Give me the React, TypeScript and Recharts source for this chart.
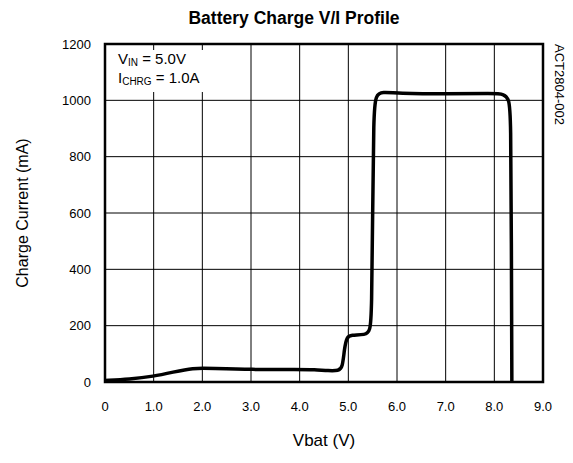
import { LineChart, Line, XAxis, YAxis, CartesianGrid, ReferenceArea } from 'recharts'

// battery voltage (V) and charge current (mA) read from the profile
const vbat = [0, 0.5, 1.0, 1.4, 1.8, 2.2, 3.0, 4.0, 4.3, 4.6, 4.8, 4.88, 4.92, 4.97, 5.05, 5.35, 5.45, 5.48, 5.5, 5.52, 5.56, 5.7, 6.0, 7.0, 8.0, 8.2, 8.3, 8.34, 8.35, 8.36]
const current = [5, 10, 20, 35, 50, 48, 44, 45, 44, 40, 40, 50, 120, 160, 167, 167, 180, 250, 600, 950, 1020, 1030, 1025, 1022, 1025, 1022, 1005, 950, 500, 0]

const xTicks = [0, 1, 2, 3, 4, 5, 6, 7, 8, 9]
const yTicks = [0, 200, 400, 600, 800, 1000, 1200]

const data = vbat.map((v, i) => ({ v, i: current[i] }))

const font = '"Liberation Sans", Arial, sans-serif'

export default function App() {
  return (
    <div style={{ position: 'relative', width: 573, height: 463, background: '#fff', margin: -8 }}>
      <LineChart
        width={573}
        height={463}
        data={data}
        margin={{ top: 44, right: 30, bottom: 51, left: 45 }}
      >
        <CartesianGrid stroke="#000" strokeWidth={1} strokeOpacity={1} />
        <XAxis
          dataKey="v"
          type="number"
          domain={[0, 9]}
          ticks={xTicks}
          tickFormatter={(t: number) => (t === 0 ? '0' : t.toFixed(1))}
          tickLine={false}
          axisLine={false}
          tickMargin={14}
          height={30}
          tick={{ fill: '#000', fontSize: 13, fontFamily: font }}
        />
        <YAxis
          type="number"
          domain={[0, 1200]}
          ticks={yTicks}
          tickLine={false}
          axisLine={false}
          tickMargin={8}
          width={60}
          tick={{ fill: '#000', fontSize: 13, fontFamily: font }}
        />
        <ReferenceArea x1={0} x2={9} y1={0} y2={1200} fill="none" stroke="#000" strokeWidth={2.5} />
        <Line
          dataKey="i"
          type="basis"
          stroke="#000"
          strokeWidth={3.5}
          dot={false}
          isAnimationActive={false}
        />
      </LineChart>
      <svg width={573} height={463} style={{ position: 'absolute', left: 0, top: 0, pointerEvents: 'none' }}>
        <text x={294} y={24} textAnchor="middle" fontFamily={font} fontWeight="bold" fontSize={17.5}>
          Battery Charge V/I Profile
        </text>
        <rect x={108} y={50} width={102} height={42} fill="#fff" />
        <text x={118} y={64} fontFamily={font} fontSize={15}>
          V<tspan fontSize={10} dy={2}>IN</tspan><tspan dy={-2}> = 5.0V</tspan>
        </text>
        <text x={118} y={83} fontFamily={font} fontSize={15}>
          I<tspan fontSize={10} dy={2}>CHRG</tspan><tspan dy={-2}> = 1.0A</tspan>
        </text>
        <text
          transform="translate(28,213) rotate(-90)"
          textAnchor="middle"
          fontFamily={font}
          fontSize={16}
        >
          Charge Current (mA)
        </text>
        <text x={324} y={446} textAnchor="middle" fontFamily={font} fontSize={17}>
          Vbat (V)
        </text>
        <text transform="translate(555,44) rotate(90)" fontFamily={font} fontSize={13}>
          ACT2804-002
        </text>
      </svg>
    </div>
  )
}
